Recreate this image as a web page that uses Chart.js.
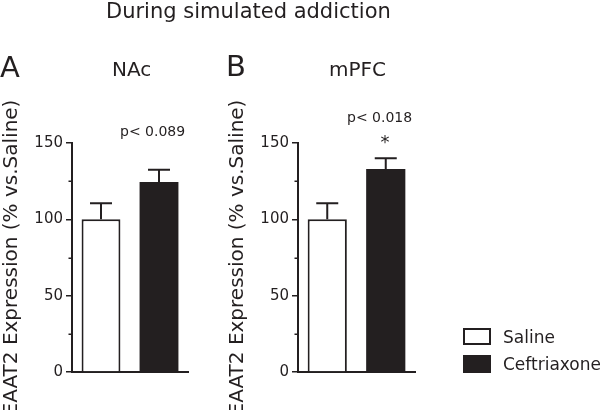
<!DOCTYPE html>
<html><head><meta charset="utf-8">
<script src="https://cdn.jsdelivr.net/npm/chart.js@4/dist/chart.umd.min.js"></script>
<style>
html,body{margin:0;padding:0;background:#fff;}
#wrap{position:relative;width:600px;height:410px;overflow:hidden;font-family:"DejaVu Sans",sans-serif;color:#231f20;}
canvas{position:absolute;left:0;top:0;}
.t{position:absolute;line-height:1;white-space:nowrap;}
.box{position:absolute;box-sizing:border-box;border:2px solid #231f20;}
</style></head><body>
<div id="wrap">
<canvas id="cA" width="600" height="410"></canvas>
<canvas id="cB" width="600" height="410"></canvas>
<div class="t" style="left:106px;top:0.5px;font-size:21px;">During simulated addiction</div>
<div class="t" id="letterA" style="left:0px;top:52.5px;font-size:29px;"></div>
<div class="t" id="regionA" style="left:112px;top:59px;font-size:20px;"></div>
<div class="t" id="letterB" style="left:226px;top:51.5px;font-size:29px;"></div>
<div class="t" id="regionB" style="left:329px;top:59px;font-size:20px;"></div>
<div class="t" id="pA" style="left:120px;top:124px;font-size:14px;"></div>
<div class="t" id="pB" style="left:347px;top:110px;font-size:14px;"></div>
<div class="t" id="sigA" style="left:150px;top:132.5px;width:20px;text-align:center;font-size:18px;"></div>
<div class="t" id="sigB" style="left:375px;top:132.5px;width:20px;text-align:center;font-size:18px;"></div>
<div class="box" id="legBox0" style="left:463px;top:328px;width:28px;height:17px;background:#fff;"></div>
<div class="box" id="legBox1" style="left:463px;top:355px;width:28px;height:18px;background:#231f20;"></div>
<div class="t" id="legTxt0" style="left:503px;top:328.6px;font-size:17px;"></div>
<div class="t" id="legTxt1" style="left:503px;top:355.6px;font-size:17px;"></div>
</div>
<script>
const categories = ['Saline', 'Ceftriaxone'];
const nacMean = [100, 124.5];
const nacSem = [10.5, 8];
const mpfcMean = [100, 133];
const mpfcSem = [10.5, 7];
const yMajorTicks = [0, 50, 100, 150];
const yMinorTicks = [25, 75, 125];
const panelLetters = ['A', 'B'];
const regionNames = ['NAc', 'mPFC'];
const pLabels = ['p< 0.089', 'p< 0.018'];
const sigMarks = ['', '*'];
const yTitle = 'EAAT2 Expression (% vs.Saline)';

const ink = '#231f20';
const barFills = ['#ffffff', ink];

document.getElementById('letterA').textContent = panelLetters[0];
document.getElementById('letterB').textContent = panelLetters[1];
document.getElementById('regionA').textContent = regionNames[0];
document.getElementById('regionB').textContent = regionNames[1];
document.getElementById('pA').textContent = pLabels[0];
document.getElementById('pB').textContent = pLabels[1];
document.getElementById('sigA').textContent = sigMarks[0];
document.getElementById('sigB').textContent = sigMarks[1];
document.getElementById('legTxt0').textContent = categories[0];
document.getElementById('legTxt1').textContent = categories[1];

function makeErrorPlugin(sem) {
  return {
    id: 'errorBarsMinor',
    afterDatasetsDraw(chart) {
      const ctx = chart.ctx;
      const y = chart.scales.y;
      const meta = chart.getDatasetMeta(0);
      const mean = chart.data.datasets[0].data;
      ctx.save();
      ctx.strokeStyle = ink;
      ctx.lineWidth = 2;
      meta.data.forEach((bar, i) => {
        const yTop = y.getPixelForValue(mean[i] + sem[i]);
        const yBase = y.getPixelForValue(mean[i]);
        const half = 11;
        ctx.beginPath();
        ctx.moveTo(bar.x, yBase);
        ctx.lineTo(bar.x, yTop);
        ctx.moveTo(bar.x - half, yTop);
        ctx.lineTo(bar.x + half, yTop);
        ctx.stroke();
      });
      ctx.restore();
    },
    afterDraw(chart) {
      const ctx = chart.ctx;
      const y = chart.scales.y;
      const x0 = chart.chartArea.left;
      ctx.save();
      ctx.strokeStyle = ink;
      ctx.lineWidth = 1.5;
      yMinorTicks.forEach(v => {
        const py = Math.round(y.getPixelForValue(v)) + 0.25;
        ctx.beginPath();
        ctx.moveTo(x0 - 3.5, py);
        ctx.lineTo(x0, py);
        ctx.stroke();
      });
      ctx.restore();
    }
  };
}

function makeChart(id, mean, sem, padLeft, padRight) {
  return new Chart(document.getElementById(id), {
    type: 'bar',
    data: {
      labels: categories,
      datasets: [{
        data: mean,
        backgroundColor: barFills,
        borderColor: ink,
        borderWidth: [2, 0],
        borderSkipped: 'start',
        barPercentage: 0.67,
        categoryPercentage: 1.0
      }]
    },
    options: {
      responsive: false,
      animation: false,
      devicePixelRatio: 1,
      layout: { padding: { left: padLeft, right: padRight, top: 143, bottom: 38 } },
      plugins: { legend: { display: false }, tooltip: { enabled: false }, title: { display: false } },
      scales: {
        x: {
          type: 'category',
          grid: { display: false },
          ticks: { display: false },
          border: { display: true, color: ink, width: 2 },
          afterFit: s => { s.height = 0; }
        },
        y: {
          min: 0, max: 150,
          ticks: {
            stepSize: 25,
            autoSkip: false,
            padding: 3,
            color: ink,
            font: { family: 'DejaVu Sans', size: 15 },
            callback: v => yMajorTicks.includes(v) ? String(v) : ''
          },
          grid: {
            display: true,
            drawOnChartArea: false,
            drawTicks: true,
            tickLength: 6,
            lineWidth: 1.5,
            color: c => (c.tick && yMajorTicks.includes(c.tick.value)) ? ink : 'rgba(0,0,0,0)'
          },
          border: { display: true, color: ink, width: 2 },
          title: {
            display: true,
            text: yTitle,
            color: ink,
            font: { family: 'DejaVu Sans', size: 20 },
            padding: { top: 0, bottom: 0 }
          },
          afterFit: s => { s.width = 72; }
        }
      }
    },
    plugins: [makeErrorPlugin(sem)]
  });
}

makeChart('cA', nacMean, nacSem, 0, 412);
makeChart('cB', mpfcMean, mpfcSem, 226, 185);
</script>
</body></html>
